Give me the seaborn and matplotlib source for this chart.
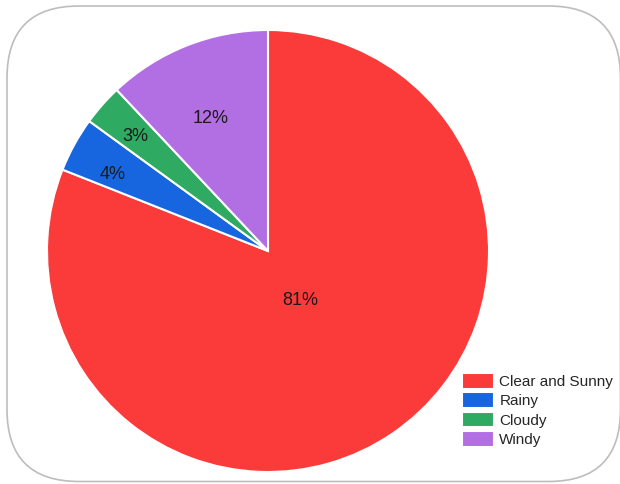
import numpy as np
import matplotlib
matplotlib.use("Agg")
import matplotlib.pyplot as plt
from matplotlib.patches import FancyBboxPatch
import seaborn as sns

sns.set_theme(style="white")
plt.rcParams["font.family"] = ["Liberation Sans", "DejaVu Sans"]

categories = ["Clear and Sunny", "Rainy", "Cloudy", "Windy"]
shares = [81, 4, 3, 12]
pct_labels = ["81%", "4%", "3%", "12%"]
colors = ["#FB3A3A", "#1766E0", "#2EAA62", "#B26FE3"]

W, H = 620, 484
fig = plt.figure(figsize=(W / 100, H / 100), dpi=100)
ax = fig.add_axes([0, 0, 1, 1])
ax.set_xlim(0, W)
ax.set_ylim(0, H)
ax.set_aspect("equal")
ax.axis("off")

# rounded outer frame
frame = FancyBboxPatch((7, 2.5), 613.5, 475.5,
                       boxstyle="round,pad=0,rounding_size=72",
                       facecolor="white", edgecolor="#BDBDBD", linewidth=1.2,
                       zorder=0)
ax.add_patch(frame)

cx, cy, r = 268, H - 251, 221
wedges, _ = ax.pie(shares, colors=colors, startangle=90, counterclock=False,
                   center=(cx, cy), radius=r, frame=True,
                   wedgeprops=dict(edgecolor="white", linewidth=1.5))
ax.set_xlim(0, W)
ax.set_ylim(0, H)
ax.axis("off")

# radial position (fraction of radius) and angular nudge (deg) of each label
label_dist = [0.26, 0.79, 0.80, 0.66]
label_turn = [0.0, 2.0, 0.0, 1.5]
for w, lab, d, t in zip(wedges, pct_labels, label_dist, label_turn):
    ang = np.deg2rad((w.theta1 + w.theta2) / 2 + t)
    ax.text(cx + d * r * np.cos(ang), cy + d * r * np.sin(ang) - 2, lab,
            ha="center", va="center", fontsize=13, color="#1a1a1a", zorder=5)

ax.legend(wedges, categories, loc="upper left",
          bbox_to_anchor=(462, H - 373), bbox_transform=ax.transData,
          frameon=False, fontsize=11, borderpad=0, borderaxespad=0,
          handlelength=2.1, handleheight=1.2, handletextpad=0.35,
          labelspacing=0.22)

fig.savefig("out.png", dpi=100)
